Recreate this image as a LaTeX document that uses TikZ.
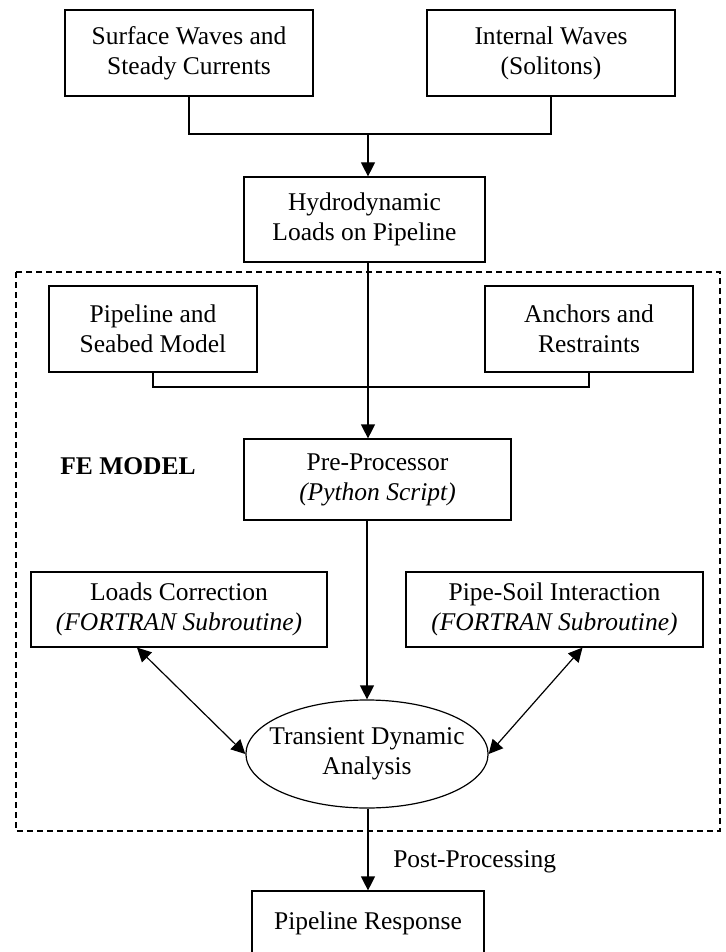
\documentclass[tikz,border=0pt]{standalone}
\usepackage{fontspec}
\setmainfont{Liberation Serif}
\usetikzlibrary{shapes.geometric, arrows.meta, positioning, calc}

\begin{document}
\begin{tikzpicture}[x=0.5pt, y=-0.5pt, line width=0.6pt,
    font=\fontsize{12.75}{15}\selectfont,
    >={Triangle[length=7pt,width=7pt]},
    block/.style={draw, rectangle, align=center, inner sep=0pt}]
    \useasboundingbox (0,0) rectangle (726,952);

    % Wellen und Lasten
    \node[block, minimum width=124pt, minimum height=43pt] (waves) at (189,53) {Surface Waves and\\Steady Currents};
    \node[block, minimum width=124pt, minimum height=43pt] (solitons) at (551,53) {Internal Waves\\(Solitons)};
    \node[block, minimum width=120.5pt, minimum height=42.5pt] (hydro) at (364.5,219.5) {Hydrodynamic\\Loads on Pipeline};
    \coordinate (j1) at (368,134);
    \draw (waves.south) |- (j1) -| (solitons.south);
    \draw[->] (j1) -- (j1 |- hydro.north);

    % FE-Modell
    \draw[dash pattern=on 3pt off 2pt] (16,272) rectangle (720,831);
    \node[font=\fontsize{12.75}{15}\selectfont\bfseries] (femodel) at (128,466) {FE MODEL};
    \node[block, minimum width=104pt, minimum height=43pt] (seabed) at (153,329) {Pipeline and\\Seabed Model};
    \node[block, minimum width=104pt, minimum height=43pt] (anchors) at (589,329) {Anchors and\\Restraints};
    \node[block, minimum width=133.5pt, minimum height=40.5pt] (preproc) at (377.5,479.5) {Pre-Processor\\\textit{(Python Script)}};
    \coordinate (j2) at (368,387);
    \draw (seabed.south) |- (j2) -| (anchors.south);
    \draw[->] (hydro.south -| j2) -- (j2 |- preproc.north);

    \node[block, minimum width=148pt, minimum height=37.5pt] (loads) at (179,609.5) {Loads Correction\\\textit{(FORTRAN Subroutine)}};
    \node[block, minimum width=148.5pt, minimum height=37.5pt] (soil) at (554.5,609.5) {Pipe-Soil Interaction\\\textit{(FORTRAN Subroutine)}};
    \node[draw, ellipse, align=center, inner xsep=-6pt, inner ysep=0pt, minimum height=54pt] (trans) at (367,754) {Transient Dynamic\\Analysis};
    \draw[->] (preproc.south -| trans.north) -- (trans.north);
    \draw[<->] ([xshift=-21pt]loads.south) -- (trans.west);
    \draw[<->] ([xshift=14pt]soil.south) -- (trans.east);

    % Ergebnis
    \node[block, minimum width=116pt, minimum height=32.5pt] (response) at (368,923.5) {Pipeline Response};
    \draw[->] (trans.south -| response.north) -- node[pos=0.65, anchor=west, xshift=9pt] (post) {Post-Processing} (response.north);
\end{tikzpicture}
\end{document}
